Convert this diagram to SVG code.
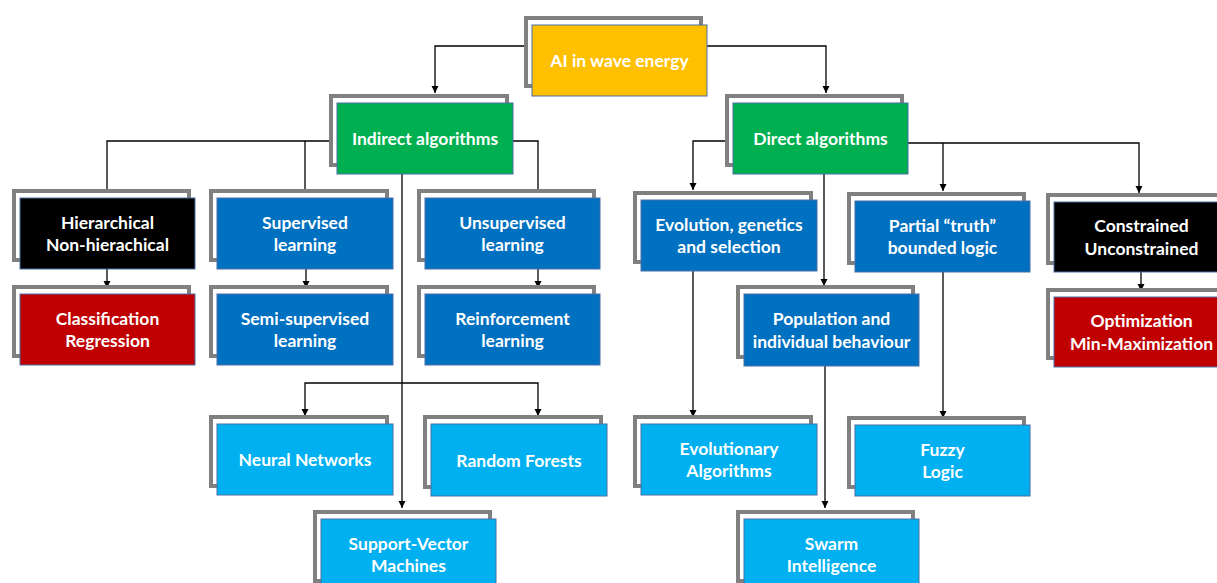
<svg xmlns="http://www.w3.org/2000/svg" width="1217" height="583" viewBox="0 0 1217 583">
<style>
.fr{fill:#fff;stroke:#808080;stroke-width:4}
.bx{stroke:#4A6FA5;stroke-width:1}
.t{font-family:Lato,"Liberation Sans",sans-serif;font-weight:bold;font-size:17.5px;fill:#fff;text-anchor:middle}
.c{fill:none;stroke:#000;stroke-width:1.3}
.y{fill:#FFC000}.g{fill:#00B050}.b{fill:#0070C0}.lb{fill:#00B0F0}.k{fill:#000}.r{fill:#C00000}
</style>
<defs>
<marker id="ah" markerUnits="userSpaceOnUse" markerWidth="8" markerHeight="8" refX="7" refY="3.5" orient="auto">
<path d="M0,0 L7,3.5 L0,7 z" fill="#000"/>
</marker>
</defs>
<rect width="1217" height="583" fill="#fff"/>
<g id="connectors">
<path class="c" d="M524,46 H435 V93" marker-end="url(#ah)"/>
<path class="c" d="M707,46 H826 V93" marker-end="url(#ah)"/>
<path class="c" d="M330,141 H107 V190"/>
<path class="c" d="M305,141 V190"/>
<path class="c" d="M513,141 H538 V190"/>
<path class="c" d="M402,174 V508" marker-end="url(#ah)"/>
<path class="c" d="M402,383 H305 V416" marker-end="url(#ah)"/>
<path class="c" d="M402,383 H538 V416" marker-end="url(#ah)"/>
<path class="c" d="M107,269 V288" marker-end="url(#ah)"/>
<path class="c" d="M306,269 V288" marker-end="url(#ah)"/>
<path class="c" d="M538,269 V288" marker-end="url(#ah)"/>
<path class="c" d="M725,141 H693 V190" marker-end="url(#ah)"/>
<path class="c" d="M908,143 H1139 V193" marker-end="url(#ah)"/>
<path class="c" d="M943,143 V191" marker-end="url(#ah)"/>
<path class="c" d="M824,174 V286" marker-end="url(#ah)"/>
<path class="c" d="M693,271 V417" marker-end="url(#ah)"/>
<path class="c" d="M825,366 V508" marker-end="url(#ah)"/>
<path class="c" d="M943,272 V418" marker-end="url(#ah)"/>
<path class="c" d="M1141,272 V291" marker-end="url(#ah)"/>
</g>
<g id="ai"><rect class="fr" x="526" y="18" width="175" height="68"/><rect class="bx y" x="532" y="25" width="175" height="71"/><text class="t" x="619.5" y="67">AI in wave energy</text></g>
<g id="indirect"><rect class="fr" x="331" y="96" width="176" height="69"/><rect class="bx g" x="337" y="103" width="176" height="71"/><text class="t" x="425" y="145">Indirect algorithms</text></g>
<g id="direct"><rect class="fr" x="727" y="96" width="175" height="69"/><rect class="bx g" x="733" y="103" width="175" height="71"/><text class="t" x="820.5" y="145">Direct algorithms</text></g>
<g id="hier"><rect class="fr" x="14" y="191" width="175" height="69"/><rect class="bx k" x="20" y="198" width="175" height="71"/><text class="t" x="107.5" y="228.5">Hierarchical</text><text class="t" x="107.5" y="251">Non-hierachical</text></g>
<g id="sup"><rect class="fr" x="211" y="191" width="176" height="69"/><rect class="bx b" x="217" y="198" width="176" height="71"/><text class="t" x="305" y="228.5">Supervised</text><text class="t" x="305" y="251">learning</text></g>
<g id="unsup"><rect class="fr" x="419" y="191" width="175" height="69"/><rect class="bx b" x="425" y="198" width="175" height="71"/><text class="t" x="512.5" y="228.5">Unsupervised</text><text class="t" x="512.5" y="251">learning</text></g>
<g id="evo"><rect class="fr" x="635" y="193" width="176" height="69"/><rect class="bx b" x="641" y="200" width="176" height="71"/><text class="t" x="729" y="230.5">Evolution, genetics</text><text class="t" x="729" y="253">and selection</text></g>
<g id="partial"><rect class="fr" x="849" y="194" width="175" height="69"/><rect class="bx b" x="855" y="201" width="175" height="71"/><text class="t" x="942.5" y="231.5">Partial “truth”</text><text class="t" x="942.5" y="254">bounded logic</text></g>
<g id="constr"><rect class="fr" x="1048" y="195" width="175" height="68"/><rect class="bx k" x="1054" y="202" width="175" height="70"/><text class="t" x="1141.5" y="232">Constrained</text><text class="t" x="1141.5" y="254.5">Unconstrained</text></g>
<g id="class"><rect class="fr" x="14" y="287" width="175" height="69"/><rect class="bx r" x="20" y="294" width="175" height="71"/><text class="t" x="107.5" y="324.5">Classification</text><text class="t" x="107.5" y="347">Regression</text></g>
<g id="semi"><rect class="fr" x="211" y="287" width="176" height="69"/><rect class="bx b" x="217" y="294" width="176" height="71"/><text class="t" x="305" y="324.5">Semi-supervised</text><text class="t" x="305" y="347">learning</text></g>
<g id="reinf"><rect class="fr" x="419" y="287" width="175" height="69"/><rect class="bx b" x="425" y="294" width="175" height="71"/><text class="t" x="512.5" y="324.5">Reinforcement</text><text class="t" x="512.5" y="347">learning</text></g>
<g id="pop"><rect class="fr" x="738" y="287" width="175" height="70"/><rect class="bx b" x="744" y="294" width="175" height="72"/><text class="t" x="831.5" y="325">Population and</text><text class="t" x="831.5" y="347.5">individual behaviour</text></g>
<g id="optim"><rect class="fr" x="1048" y="290" width="175" height="68"/><rect class="bx r" x="1054" y="297" width="175" height="70"/><text class="t" x="1141.5" y="327">Optimization</text><text class="t" x="1141.5" y="349.5">Min-Maximization</text></g>
<g id="nn"><rect class="fr" x="211" y="417" width="176" height="69"/><rect class="bx lb" x="217" y="424" width="176" height="71"/><text class="t" x="305" y="466">Neural Networks</text></g>
<g id="rf"><rect class="fr" x="425" y="417" width="176" height="70"/><rect class="bx lb" x="431" y="424" width="176" height="72"/><text class="t" x="519" y="466.5">Random Forests</text></g>
<g id="svm"><rect class="fr" x="315" y="512" width="175" height="69"/><rect class="bx lb" x="321" y="519" width="175" height="71"/><text class="t" x="408.5" y="549.5">Support-Vector</text><text class="t" x="408.5" y="572">Machines</text></g>
<g id="ea"><rect class="fr" x="635" y="417" width="176" height="69"/><rect class="bx lb" x="641" y="424" width="176" height="71"/><text class="t" x="729" y="454.5">Evolutionary</text><text class="t" x="729" y="477">Algorithms</text></g>
<g id="fuzzy"><rect class="fr" x="849" y="418" width="175" height="69"/><rect class="bx lb" x="855" y="425" width="175" height="71"/><text class="t" x="942.5" y="455.5">Fuzzy</text><text class="t" x="942.5" y="478">Logic</text></g>
<g id="swarm"><rect class="fr" x="738" y="512" width="175" height="69"/><rect class="bx lb" x="744" y="519" width="175" height="71"/><text class="t" x="831.5" y="549.5">Swarm</text><text class="t" x="831.5" y="572">Intelligence</text></g>
</svg>
